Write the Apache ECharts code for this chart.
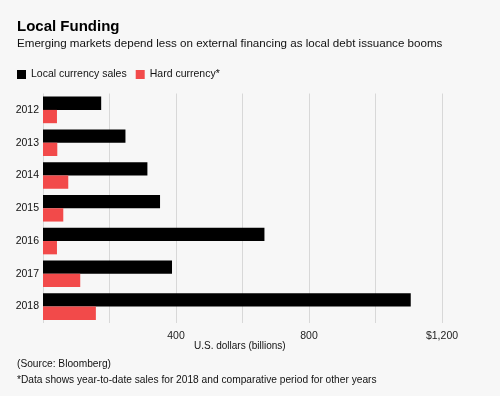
<!DOCTYPE html>
<html>
<head>
<meta charset="utf-8">
<script src="https://cdn.jsdelivr.net/npm/echarts@6/dist/echarts.min.js"></script>
<style>
  html, body { margin: 0; padding: 0; background: #f7f7f7; }
  #main { width: 500px; height: 396px; }
</style>
</head>
<body>
<div id="main"></div>
<script>
// years, top to bottom
var years = ['2012', '2013', '2014', '2015', '2016', '2017', '2018'];
// U.S. dollars (billions)
var localSales = [175, 248, 314, 352, 666, 388, 1106];
var hardCurrency = [42, 43, 76, 61, 42, 112, 159];
var shownTicks = { 400: '400', 800: '800', 1200: '$1,200' };

var font = '"Liberation Sans", Arial, sans-serif';
var myChart = echarts.init(document.getElementById('main'));

var option = {
    backgroundColor: '#f7f7f7',
    animation: false,
    textStyle: { fontFamily: font },
    title: [
        {
            text: 'Local Funding',
            left: 12, top: 14,
            textStyle: { fontSize: 15, fontWeight: 'bold', color: '#000', fontFamily: font }
        },
        {
            text: 'Emerging markets depend less on external financing as local debt issuance booms',
            left: 12, top: 33,
            textStyle: { fontSize: 11.6, fontWeight: 'normal', color: '#111', fontFamily: font }
        }
    ],
    legend: {
        left: 12, top: 64,
        icon: 'rect',
        itemWidth: 9, itemHeight: 9,
        itemGap: 9,
        itemTextGap: 7,
        textStyle: { fontSize: 10.5, color: '#111', fontFamily: font },
        data: ['Local currency sales', 'Hard currency*']
    },
    grid: { left: 43, right: 58, top: 93.5, bottom: 73 },
    xAxis: {
        type: 'value',
        min: 0, max: 1200, interval: 200,
        axisLine: { show: false },
        axisTick: { show: false },
        splitLine: { lineStyle: { color: '#d8d8d8', width: 1 } },
        axisLabel: {
            margin: 8,
            fontSize: 10.5, color: '#222',
            formatter: function (v) { return shownTicks[v] || ''; }
        }
    },
    yAxis: {
        type: 'category',
        inverse: true,
        data: years,
        axisLine: { show: false },
        axisTick: { show: false },
        axisLabel: { margin: 4, fontSize: 10.5, color: '#111' }
    },
    graphic: [
        { type: 'text', left: 194, top: 341, style: { text: 'U.S. dollars (billions)', fill: '#111', font: '10px ' + font } },
        { type: 'text', left: 17, top: 359, style: { text: '(Source: Bloomberg)', fill: '#111', font: '10.2px ' + font } },
        { type: 'text', left: 17, top: 375, style: { text: '*Data shows year-to-date sales for 2018 and comparative period for other years', fill: '#111', font: '10.2px ' + font } }
    ],
    series: [
        {
            name: 'Local currency sales',
            type: 'bar',
            data: localSales,
            barWidth: 13.3,
            barGap: '0%',
            itemStyle: { color: '#000' }
        },
        {
            name: 'Hard currency*',
            type: 'bar',
            data: hardCurrency,
            barWidth: 13.3,
            itemStyle: { color: '#f24a4a' }
        }
    ]
};

myChart.setOption(option);
</script>
</body>
</html>
